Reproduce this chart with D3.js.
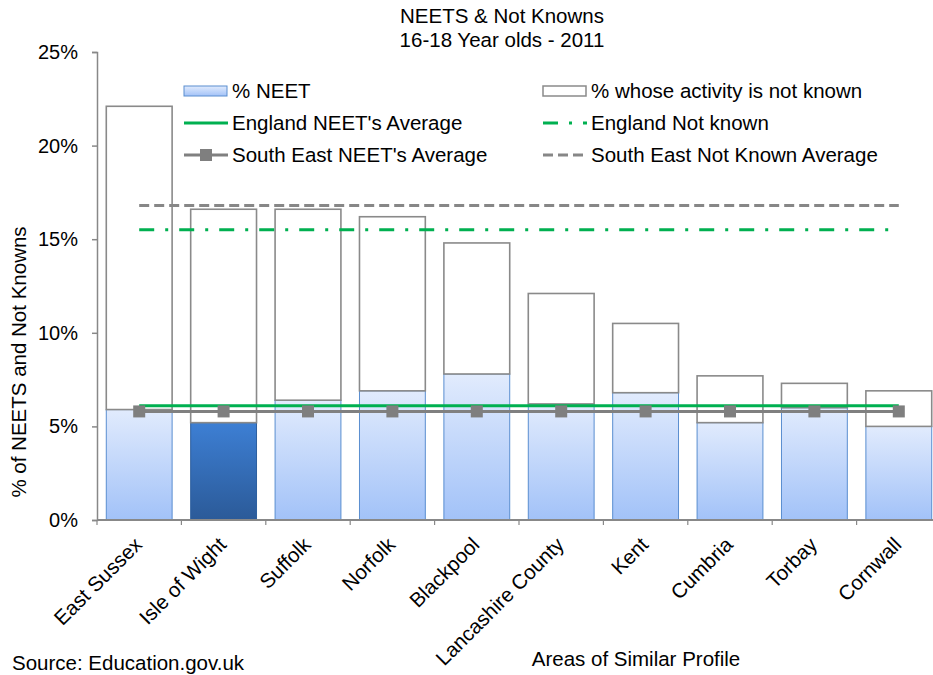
<!DOCTYPE html>
<html><head><meta charset="utf-8">
<script src="https://cdn.jsdelivr.net/npm/d3@7"></script>
<style>body{margin:0;background:#fff}svg{display:block;font-family:"Liberation Sans",Arial,sans-serif}</style>
</head><body>
<svg id="c" width="933" height="675"></svg>
<script>
const categories = ["East Sussex","Isle of Wight","Suffolk","Norfolk","Blackpool","Lancashire County","Kent","Cumbria","Torbay","Cornwall"];
const neet = [5.9,5.2,6.4,6.9,7.8,6.2,6.8,5.2,6.0,5.0];
const notKnown = [16.2,11.4,10.2,9.3,7.0,5.9,3.7,2.5,1.3,1.9];
const englandNeetAvg = 6.1;
const englandNotKnown = 15.5;
const seNeetAvg = 5.8;
const seNotKnownAvg = 16.8;
const yTicks = [0,5,10,15,20,25];
const highlight = "Isle of Wight";

const FS = 20.5;
const svg = d3.select("#c");
const x = d3.scaleBand().domain(categories).range([97,941]).paddingInner(0.22).paddingOuter(0.11);
const y = d3.scaleLinear().domain([0,25]).range([520,52]);
const step = x.step();
const x0 = 97;

const defs = svg.append("defs");
const g1 = defs.append("linearGradient").attr("id","gl").attr("x1",0).attr("y1",0).attr("x2",0).attr("y2",1);
g1.append("stop").attr("offset","0%").attr("stop-color","#e1ebfd");
g1.append("stop").attr("offset","100%").attr("stop-color","#a2c2f8");
const g2 = defs.append("linearGradient").attr("id","gd").attr("x1",0).attr("y1",0).attr("x2",0).attr("y2",1);
g2.append("stop").attr("offset","0%").attr("stop-color","#3d7fd4");
g2.append("stop").attr("offset","100%").attr("stop-color","#2b5a98");

// Title
svg.append("text").attr("x",502).attr("y",23).attr("text-anchor","middle").attr("font-size",FS).text("NEETS & Not Knowns");
svg.append("text").attr("x",502).attr("y",47).attr("text-anchor","middle").attr("font-size",FS).text("16-18 Year olds - 2011");

// Bars
const bars = svg.append("g");
categories.forEach((c,i)=>{
  bars.append("rect").attr("x",x(c)).attr("width",x.bandwidth())
    .attr("y",y(neet[i])).attr("height",y(0)-y(neet[i]))
    .attr("fill", c===highlight ? "url(#gd)" : "url(#gl)")
    .attr("stroke", c===highlight ? "#2d5f9e" : "#5a8ed0").attr("stroke-width",1);
  bars.append("rect").attr("x",x(c)).attr("width",x.bandwidth())
    .attr("y",y(neet[i]+notKnown[i])).attr("height",y(neet[i])-y(neet[i]+notKnown[i]))
    .attr("fill","#fff").attr("stroke","#8a8a8a").attr("stroke-width",1.6);
});

// Axes
const yAxis = svg.append("g").attr("transform","translate(97,0)")
  .call(d3.axisLeft(y).tickValues(yTicks).tickFormat(d=>d+"%").tickSize(5).tickPadding(14));
yAxis.select(".domain").attr("stroke","#888").attr("stroke-width",1.5);
yAxis.selectAll(".tick line").attr("stroke","#888").attr("stroke-width",1.5);
yAxis.selectAll("text").attr("font-size",20).attr("fill","#000").attr("font-family","Liberation Sans, Arial, sans-serif");

svg.append("line").attr("x1",97).attr("x2",933).attr("y1",y(0)).attr("y2",y(0)).attr("stroke","#888").attr("stroke-width",1.8);
d3.range(categories.length+1).forEach(i=>{
  svg.append("line").attr("x1",x0+i*step).attr("x2",x0+i*step).attr("y1",y(0)).attr("y2",y(0)+5).attr("stroke","#888").attr("stroke-width",1.2);
});
categories.forEach(c=>{
  const cx = x(c)+x.bandwidth()/2 + 4;
  svg.append("text").attr("transform",`translate(${cx},${546}) rotate(-45)`)
    .attr("text-anchor","end").attr("font-size",FS).text(c);
});

// Average lines
const cx = c => x(c)+x.bandwidth()/2;
const first = categories[0], last = categories[categories.length-1];
const line = (v,color,dash)=> svg.append("line").attr("x1",cx(first)).attr("x2",cx(last))
  .attr("y1",y(v)).attr("y2",y(v)).attr("stroke",color).attr("stroke-width",3).attr("stroke-dasharray",dash||null);
line(seNotKnownAvg,"#878787","10,5");
line(englandNotKnown,"#00b050","15,11,3,11");
line(englandNeetAvg,"#00b050");
line(seNeetAvg,"#808080");
categories.forEach(c=>{
  svg.append("rect").attr("x",cx(c)-6).attr("y",y(seNeetAvg)-6).attr("width",12).attr("height",12).attr("fill","#7f7f7f");
});

// Legend
const lg = svg.append("g");
const leg = (lx,ly,type,label)=>{
  if(type==="neet") lg.append("rect").attr("x",lx).attr("y",ly-5).attr("width",43).attr("height",10).attr("fill","url(#gl)").attr("stroke","#5a8ed0");
  if(type==="nk") lg.append("rect").attr("x",lx).attr("y",ly-5).attr("width",43).attr("height",10).attr("fill","#fff").attr("stroke","#8a8a8a").attr("stroke-width",1.5);
  if(type==="eng") lg.append("line").attr("x1",lx).attr("x2",lx+44).attr("y1",ly).attr("y2",ly).attr("stroke","#00b050").attr("stroke-width",3);
  if(type==="engnk") lg.append("line").attr("x1",lx).attr("x2",lx+44).attr("y1",ly).attr("y2",ly).attr("stroke","#00b050").attr("stroke-width",3).attr("stroke-dasharray","15,11,3,11");
  if(type==="se"){ lg.append("line").attr("x1",lx).attr("x2",lx+44).attr("y1",ly).attr("y2",ly).attr("stroke","#808080").attr("stroke-width",3);
    lg.append("rect").attr("x",lx+16).attr("y",ly-6).attr("width",12).attr("height",12).attr("fill","#7f7f7f"); }
  if(type==="senk") lg.append("line").attr("x1",lx).attr("x2",lx+44).attr("y1",ly).attr("y2",ly).attr("stroke","#878787").attr("stroke-width",3).attr("stroke-dasharray","10,5");
  lg.append("text").attr("x",lx+48).attr("y",ly+7).attr("font-size",FS).text(label);
};
leg(184,91,"neet","% NEET");
leg(184,123,"eng","England NEET's Average");
leg(184,155,"se","South East NEET's Average");
leg(543,91,"nk","% whose activity is not known");
leg(543,123,"engnk","England Not known");
leg(543,155,"senk","South East Not Known Average");

// Axis titles
svg.append("text").attr("transform","translate(26,362) rotate(-90)").attr("text-anchor","middle").attr("font-size",FS).text("% of NEETS and Not Knowns");
svg.append("text").attr("x",636).attr("y",666).attr("text-anchor","middle").attr("font-size",FS).text("Areas of Similar Profile");
svg.append("text").attr("x",12).attr("y",670).attr("font-size",FS).text("Source: Education.gov.uk");
</script>
</body></html>
